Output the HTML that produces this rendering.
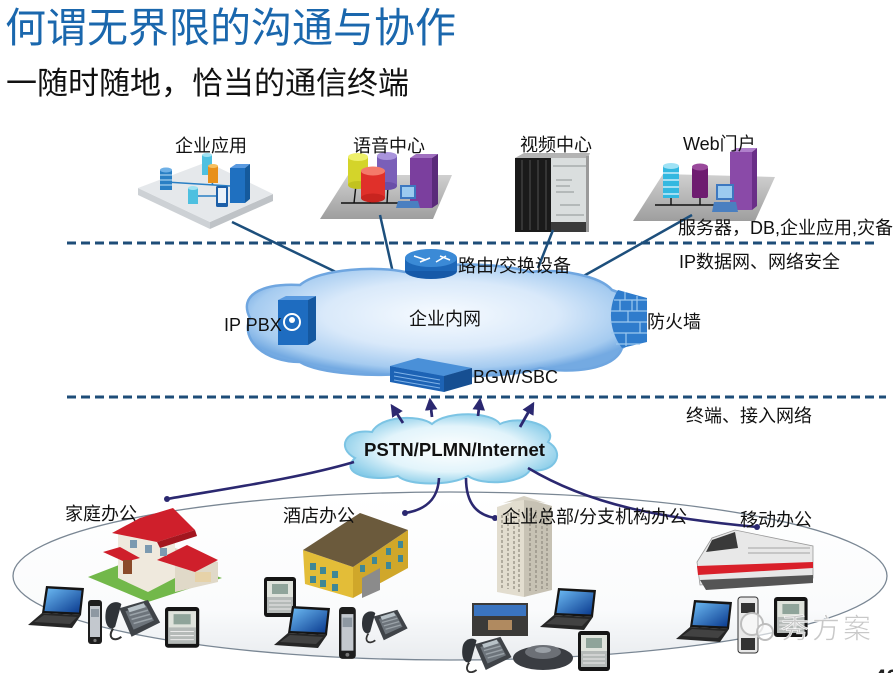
<!DOCTYPE html>
<html><head><meta charset="utf-8">
<style>
html,body{margin:0;padding:0;background:#fff;}
svg{display:block;}
text{font-family:"Liberation Sans","Noto Sans CJK SC",sans-serif;}
</style></head><body>
<svg width="893" height="673" viewBox="0 0 893 673" xmlns="http://www.w3.org/2000/svg">
<defs>
 <radialGradient id="cloudG" cx="50%" cy="45%" r="55%">
  <stop offset="0" stop-color="#f7fbff"/>
  <stop offset="0.55" stop-color="#d9e9fa"/>
  <stop offset="0.88" stop-color="#a5cbf0"/>
  <stop offset="1" stop-color="#74aae2"/>
 </radialGradient>
 <radialGradient id="pstnG" cx="50%" cy="50%" r="55%">
  <stop offset="0" stop-color="#ffffff"/>
  <stop offset="0.6" stop-color="#e2f4fb"/>
  <stop offset="1" stop-color="#86cbe8"/>
 </radialGradient>
 <linearGradient id="scr" x1="0" y1="0" x2="1" y2="1">
  <stop offset="0" stop-color="#6cbaf3"/>
  <stop offset="1" stop-color="#0a3a8e"/>
 </linearGradient>
 <linearGradient id="ellG" x1="0" y1="0" x2="0" y2="1">
  <stop offset="0" stop-color="#ffffff"/>
  <stop offset="0.7" stop-color="#fafbfc"/>
  <stop offset="1" stop-color="#e9ecef"/>
 </linearGradient>
 <linearGradient id="slabG" x1="0" y1="0" x2="0" y2="1">
  <stop offset="0" stop-color="#d0d0d0"/>
  <stop offset="1" stop-color="#9e9e9e"/>
 </linearGradient>
 <marker id="arr" viewBox="0 0 10 10" refX="8" refY="5" markerWidth="4.5" markerHeight="4.5" orient="auto">
  <path d="M0,0 L10,5 L0,10 Z" fill="#2b2870"/>
 </marker>
 <g id="laptop">
  <polygon points="18,0 56,2 53,29 14,27" fill="#151515"/>
  <polygon points="20,2.5 53.5,4.5 51,26.5 16.5,25" fill="url(#scr)"/>
  <polygon points="14,27 53,29 44,42 0,39" fill="#262626"/>
  <polygon points="16,29 49,31 42,38 6,36" fill="#424242"/>
 </g>
 <g id="sphone">
  <rect x="0" y="0" width="14" height="44" rx="3" fill="#1e1e1e"/>
  <rect x="2" y="6" width="10" height="31" fill="#c3c8ce"/>
  <rect x="3" y="9" width="8" height="8" fill="#8e98a2"/>
  <circle cx="7" cy="40.5" r="1.6" fill="#777"/>
 </g>
 <g id="desk">
  <path d="M16,10 L44,2 L56,24 L28,38 Z" fill="#3f4348"/>
  <path d="M22,13 L42,7 L50,22 L30,31 Z" fill="#6d747b"/>
  <path d="M24,10 L40,5 L42,9 L26,14Z" fill="#b8c2c8"/>
  <path d="M26,17 L44,12 M28,21 L46,16 M30,25 L48,20" stroke="#9aa2a8" stroke-width="1.5"/>
  <path d="M3,12 C5,4 14,2 18,6 L12,28 C8,33 0,28 3,12Z" fill="#2f3338"/>
  <path d="M10,30 C4,38 10,44 18,38" stroke="#333" stroke-width="2" fill="none"/>
 </g>
 <g id="tablet">
  <rect x="0" y="0" width="32" height="40" rx="3" fill="#151515"/>
  <rect x="3" y="4" width="26" height="32" fill="#dfe3dc"/>
  <rect x="3" y="20" width="26" height="16" fill="#b5bab8"/>
  <path d="M5,24 H27 M5,28 H27 M5,32 H27" stroke="#eaeaea" stroke-width="1"/>
  <rect x="8" y="7" width="16" height="10" fill="#8fa49a"/>
 </g>
</defs>

<!-- Title -->
<text x="5" y="42" font-size="41" fill="#1a67ad">何谓无界限的沟通与协作</text>
<text x="6" y="94" font-size="31" fill="#111">一随时随地，恰当的通信终端</text>

<!-- dashed lines -->
<line x1="67" y1="243" x2="876" y2="243" stroke="#1e4d78" stroke-width="3" stroke-dasharray="9 5"/>
<line x1="67" y1="397" x2="886" y2="397" stroke="#1e4d78" stroke-width="3" stroke-dasharray="9 5"/>

<!-- 企业应用 platform -->
<polygon points="138,188 210,222 210,229 138,195" fill="#cdd1d5"/>
<polygon points="210,222 273,194 273,201 210,229" fill="#bfc3c7"/>
<polygon points="138,188 207,162 273,194 210,222" fill="#e5e8eb"/>
<path d="M166,182 L230,186 M193,196 L216,196 M207,170 L213,185" stroke="#2a7fc4" stroke-width="1.5"/>
<rect x="160" y="170" width="12" height="20" fill="#2a7fc4"/>
<ellipse cx="166" cy="170" rx="6" ry="2.5" fill="#6fb0e6"/>
<path d="M160,175 H172 M160,180 H172 M160,185 H172" stroke="#bfe0f7" stroke-width="1"/>
<rect x="202" y="155" width="10" height="20" fill="#4ec0e0"/>
<ellipse cx="207" cy="155" rx="5" ry="2" fill="#a0e2f2"/>
<rect x="208" y="166" width="10" height="17" fill="#e8901a"/>
<ellipse cx="213" cy="166" rx="5" ry="2" fill="#f6c060"/>
<rect x="188" y="188" width="10" height="16" fill="#4ec0e0"/>
<ellipse cx="193" cy="188" rx="5" ry="2" fill="#a0e2f2"/>
<polygon points="230,168 236,164 250,164 245,168" fill="#5a9ae0"/>
<rect x="230" y="168" width="15" height="35" fill="#1f70c0"/>
<polygon points="245,168 250,164 250,199 245,203" fill="#155a9c"/>
<rect x="216" y="186" width="12" height="21" rx="1.5" fill="#1d5fa8"/>
<rect x="218" y="188" width="8" height="15" fill="#eaf2fa"/>

<!-- 语音中心 platform -->
<polygon points="320,219 348,175 452,175 433,219" fill="url(#slabG)"/>
<path d="M341,203 H430" stroke="#111" stroke-width="1.6"/>
<path d="M356,185 L354,203 M372,198 L370,203 M388,186 L387,203" stroke="#111" stroke-width="1.4"/>
<rect x="348" y="157" width="20" height="28" fill="#d4d42a"/>
<ellipse cx="358" cy="185" rx="10" ry="4" fill="#c2c21e"/>
<ellipse cx="358" cy="157" rx="10" ry="4" fill="#eef06a"/>
<rect x="377" y="156" width="20" height="30" fill="#7a5fb8"/>
<ellipse cx="387" cy="186" rx="10" ry="4" fill="#6a4fa8"/>
<ellipse cx="387" cy="156" rx="10" ry="4" fill="#a994dc"/>
<rect x="361" y="171" width="24" height="27" fill="#e0302a"/>
<ellipse cx="373" cy="198" rx="12" ry="4.5" fill="#c8241f"/>
<ellipse cx="373" cy="171" rx="12" ry="4.5" fill="#f47a6a"/>
<polygon points="410,158 416,154 438,154 432,158" fill="#a070c0"/>
<rect x="410" y="158" width="22" height="50" fill="#7b3f9e"/>
<polygon points="432,158 438,154 438,204 432,208" fill="#5a2a7a"/>
<rect x="400" y="185" width="16" height="14" fill="#3d78c0"/>
<rect x="402" y="187" width="12" height="10" fill="#9ccbf0"/>
<polygon points="398,201 418,201 420,208 396,208" fill="#4a7fc0"/>

<!-- 视频中心 device -->
<polygon points="515,158 524,153 590,153 588,158" fill="#b4b4b4"/>
<rect x="515" y="158" width="36" height="74" fill="#1a1a1a"/>
<path d="M522,160 V230 M530,160 V230 M538,160 V230 M546,160 V230" stroke="#353535" stroke-width="2"/>
<rect x="551" y="158" width="37" height="74" fill="#dadede"/>
<path d="M553,166 H586 M556,180 H572 M556,186 H570 M556,192 H574 M560,205 H580 M556,215 H584" stroke="#8e9494" stroke-width="1"/>
<rect x="551" y="222" width="37" height="10" fill="#3a3a3a"/>
<rect x="586" y="156" width="3" height="76" fill="#9a9a9a"/>

<!-- Web门户 platform -->
<polygon points="633,221 663,174 775,177 755,221" fill="url(#slabG)"/>
<path d="M655,205 H722" stroke="#111" stroke-width="1.6"/>
<path d="M671,198 V205 M700,198 V205" stroke="#111" stroke-width="1.4"/>
<rect x="663" y="166" width="16" height="32" fill="#33b8e0"/>
<ellipse cx="671" cy="166" rx="8" ry="3" fill="#9fe2f5"/>
<path d="M663,173 H679 M663,180 H679 M663,187 H679 M663,194 H679" stroke="#e8f8ff" stroke-width="1.2"/>
<rect x="692" y="167" width="16" height="31" rx="2" fill="#6e1c70"/>
<ellipse cx="700" cy="167" rx="8" ry="3.5" fill="#9a4a9c"/>
<polygon points="730,152 736,148 757,148 752,152" fill="#b080cc"/>
<rect x="730" y="152" width="22" height="58" fill="#8a4aa8"/>
<polygon points="752,152 757,148 757,206 752,210" fill="#6a2e88"/>
<rect x="716" y="184" width="18" height="16" fill="#3d78c0"/>
<rect x="718" y="186" width="14" height="12" fill="#9ccbf0"/>
<polygon points="714,202 736,202 738,212 712,212" fill="#4a7fc0"/>

<!-- connector lines top -->
<g stroke="#1d4f7c" stroke-width="2.5" fill="none">
 <line x1="232" y1="222" x2="338" y2="273"/>
 <line x1="380" y1="215" x2="393" y2="273"/>
 <line x1="553" y1="230" x2="538" y2="268"/>
 <line x1="692" y1="215" x2="580" y2="278"/>
</g>

<!-- Enterprise cloud -->
<path d="M250,318 C238,295 262,283 300,285 C320,268 380,266 405,272 C430,262 500,262 530,272 C560,268 600,276 612,290 C640,298 640,340 622,348 C615,370 570,374 540,368 C510,378 440,378 415,372 C380,378 320,374 300,362 C265,362 240,340 250,318 Z" fill="url(#cloudG)" stroke="#6fa6e0" stroke-width="2.5"/>
<!-- router -->
<ellipse cx="431" cy="271" rx="26" ry="8" fill="#1659a8"/>
<rect x="405" y="258" width="52" height="13" fill="#1d67b8"/>
<ellipse cx="431" cy="258" rx="26" ry="9" fill="#3b8ad6"/>
<path d="M414,256 L426,260 M440,256 L450,260 M420,262 L430,258 M436,262 L446,256" stroke="#fff" stroke-width="1.5"/>
<!-- IP PBX -->
<polygon points="278,300 286,296 316,296 308,300" fill="#5a9ae0"/>
<rect x="278" y="300" width="30" height="45" fill="#1e6cc0"/>
<polygon points="308,300 316,296 316,340 308,345" fill="#1558a0"/>
<circle cx="292" cy="322" r="8" fill="none" stroke="#fff" stroke-width="2"/>
<circle cx="292" cy="320" r="3" fill="#fff"/>
<!-- firewall -->
<path d="M618,290 L647,298 L647,342 L622,348 C608,330 608,305 618,290 Z" fill="#2f7ccc"/>
<path d="M614,300 H647 M611,311 H647 M610,322 H647 M611,333 H647 M616,344 H640 M625,292 V300 M637,296 V311 M628,311 V322 M640,322 V333 M626,333 V346 M620,300 V311 M632,300 V311" stroke="#9cc8ef" stroke-width="1.2"/>
<!-- BGW/SBC -->
<polygon points="390,366 418,358 472,368 444,376" fill="#4a90d8"/>
<polygon points="390,366 444,376 444,392 390,382" fill="#1d63b5"/>
<polygon points="444,376 472,368 472,384 444,392" fill="#164f92"/>
<path d="M394,372 L440,380 M394,376 L440,384 M394,380 L440,388" stroke="#7fb2e8" stroke-width="1"/>

<!-- labels top -->
<g font-size="18" fill="#111">
 <text x="175" y="152">企业应用</text>
 <text x="353" y="152">语音中心</text>
 <text x="520" y="151">视频中心</text>
 <text x="683" y="150">Web门户</text>
 <text x="678" y="234">服务器，DB,企业应用,灾备</text>
 <text x="679" y="268">IP数据网、网络安全</text>
 <text x="458" y="272">路由/交换设备</text>
 <text x="409" y="325">企业内网</text>
 <text x="224" y="331">IP PBX</text>
 <text x="647" y="328">防火墙</text>
 <text x="473" y="383">BGW/SBC</text>
 <text x="686" y="422">终端、接入网络</text>
</g>

<!-- Ellipse -->
<ellipse cx="450" cy="576" rx="437" ry="84" fill="url(#ellG)" stroke="#7a8794" stroke-width="1.3"/>

<!-- PSTN cloud -->
<path d="M355,458 C336,448 345,428 372,432 C380,416 418,414 432,424 C448,410 492,412 500,424 C520,414 560,426 548,442 C566,452 556,474 530,470 C522,484 482,486 468,476 C452,486 408,486 398,476 C372,482 338,474 355,458 Z" fill="url(#pstnG)" stroke="#7cc4e4" stroke-width="2"/>
<text x="364" y="456" font-size="18" font-weight="bold" fill="#111" textLength="181" lengthAdjust="spacingAndGlyphs">PSTN/PLMN/Internet</text>

<!-- arrows up -->
<g stroke="#2b2870" stroke-width="2.8" fill="none" marker-end="url(#arr)">
 <line x1="403" y1="423" x2="392" y2="406"/>
 <line x1="432" y1="417" x2="430" y2="400"/>
 <line x1="478" y1="416" x2="480" y2="400"/>
 <line x1="520" y1="427" x2="533" y2="404"/>
</g>
<!-- curves down -->
<g stroke="#2b2870" stroke-width="2.6" fill="none">
 <path d="M354,462 C300,478 230,488 167,499"/>
 <path d="M439,478 C438,500 425,510 405,513"/>
 <path d="M466,478 C466,505 478,515 495,518"/>
 <path d="M528,468 C590,505 660,518 757,527"/>
</g>
<g fill="#2b2870">
 <circle cx="167" cy="499" r="3"/>
 <circle cx="405" cy="513" r="3"/>
 <circle cx="495" cy="518" r="3"/>
 <circle cx="757" cy="527" r="3"/>
</g>

<!-- House -->
<polygon points="88,577 150,553 222,578 148,602" fill="#72b84a"/>
<polygon points="118,533 150,522 175,530 175,578 148,592 118,578" fill="#efe9dd"/>
<polygon points="175,548 218,562 218,582 175,592" fill="#e0d9c8"/>
<polygon points="112,533 140,518 173,508 195,530 157,542" fill="#cf1f2b"/>
<polygon points="157,542 195,530 197,536 160,548" fill="#a3161f"/>
<polygon points="103,552 120,547 140,558 125,562" fill="#cf1f2b"/>
<polygon points="157,560 187,545 218,560 195,572" fill="#cf1f2b"/>
<rect x="123" y="560" width="9" height="14" fill="#8a4a2a"/>
<rect x="130" y="540" width="7" height="8" fill="#7c9ab0"/>
<rect x="145" y="545" width="7" height="8" fill="#7c9ab0"/>
<rect x="160" y="548" width="7" height="8" fill="#7c9ab0"/>
<rect x="195" y="572" width="16" height="10" fill="#e6d2a8"/>

<!-- Hotel -->
<polygon points="303,550 353,567 353,598 305,584" fill="#e3bd38"/>
<polygon points="353,567 408,530 408,568 353,598" fill="#d0a72a"/>
<polygon points="303,550 360,513 408,530 353,567" fill="#6b5a3c"/>
<g fill="#3f8795">
 <rect x="310" y="563" width="6" height="7"/><rect x="320" y="567" width="6" height="7"/><rect x="332" y="571" width="6" height="7"/>
 <rect x="310" y="576" width="6" height="7"/><rect x="320" y="580" width="6" height="7"/><rect x="332" y="584" width="6" height="7"/>
 <rect x="360" y="565" width="5" height="7"/><rect x="372" y="557" width="5" height="7"/><rect x="386" y="548" width="5" height="7"/><rect x="398" y="541" width="5" height="7"/>
 <rect x="398" y="555" width="5" height="7"/><rect x="386" y="562" width="5" height="7"/>
</g>
<polygon points="362,578 380,568 380,590 362,598" fill="#8b8b8b"/>

<!-- Tower -->
<polygon points="497,507 524,498 524,597 497,592" fill="#e2ddcf"/>
<polygon points="524,498 552,506 552,590 524,597" fill="#c7c2b4"/>
<polygon points="503,503 524,496 546,503 524,500" fill="#d6d1c3"/>
<path d="M502,515 V588 M508,513 V589 M514,511 V591 M519,509 V592 M530,508 V592 M536,510 V591 M542,511 V590 M547,513 V589" stroke="#8f8a7e" stroke-width="1.2" stroke-dasharray="3 2"/>

<!-- Train -->
<polygon points="697,562 712,538 735,530 813,546 813,578 700,585" fill="#e8e8e8" stroke="#9a9a9a" stroke-width="0.8"/>
<polygon points="712,540 735,532 738,548 706,552" fill="#3a3a3a"/>
<polygon points="697,566 813,562 813,568 698,575" fill="#d9202a"/>
<polygon points="700,580 813,575 813,583 706,590" fill="#555"/>
<path d="M748,548 H810 M748,553 H810" stroke="#bbb" stroke-width="1.5"/>

<!-- Devices: home -->
<use href="#laptop" transform="translate(28,586)"/>
<use href="#sphone" transform="translate(88,600)"/>
<use href="#desk" transform="translate(103,598) scale(1.02)"/>
<use href="#tablet" transform="translate(165,607) scale(1.07,1.02)"/>
<!-- hotel -->
<use href="#tablet" transform="translate(264,577)"/>
<use href="#laptop" transform="translate(274,606)"/>
<use href="#sphone" transform="translate(339,607) scale(1.2,1.18)"/>
<use href="#desk" transform="translate(360,608) scale(0.85)"/>
<!-- HQ -->
<rect x="472" y="603" width="56" height="33" fill="#3b3a38"/>
<rect x="474" y="605" width="52" height="11" fill="#3a74c0"/>
<rect x="488" y="620" width="24" height="10" fill="#b08a60"/>
<use href="#laptop" transform="translate(540,588)"/>
<use href="#desk" transform="translate(460,635) scale(0.92)"/>
<ellipse cx="543" cy="658" rx="30" ry="12" fill="#3a3d42"/>
<ellipse cx="543" cy="652" rx="18" ry="7" fill="#6c7076"/>
<ellipse cx="543" cy="650" rx="8" ry="3" fill="#9aa0a6"/>
<use href="#tablet" transform="translate(578,631)"/>
<!-- mobile -->
<use href="#laptop" transform="translate(676,600)"/>
<rect x="738" y="597" width="20" height="56" rx="3" fill="#e8e8e8" stroke="#333" stroke-width="1"/>
<rect x="741" y="603" width="14" height="10" fill="#333"/>
<rect x="741" y="638" width="14" height="12" fill="#333"/>
<use href="#tablet" transform="translate(774,597) scale(1.05,1)"/>

<!-- labels bottom -->
<g font-size="18" fill="#111">
 <text x="65" y="520">家庭办公</text>
 <text x="283" y="522">酒店办公</text>
 <text x="502" y="523">企业总部/分支机构办公</text>
 <text x="740" y="526">移动办公</text>
</g>

<!-- watermark -->
<circle cx="752" cy="624" r="11" fill="#fff" fill-opacity="0.6" stroke="#bdbdbd" stroke-width="2"/>
<circle cx="765" cy="632" r="8" fill="#fff" fill-opacity="0.6" stroke="#bdbdbd" stroke-width="2"/>
<text x="781" y="638" font-size="28" fill="#c8c8c8" stroke="#fff" stroke-width="0.6" letter-spacing="3">秀方案</text>

<!-- page number -->
<text x="874" y="685" font-size="22" font-weight="bold" fill="#222">40</text>
</svg>
</body></html>
